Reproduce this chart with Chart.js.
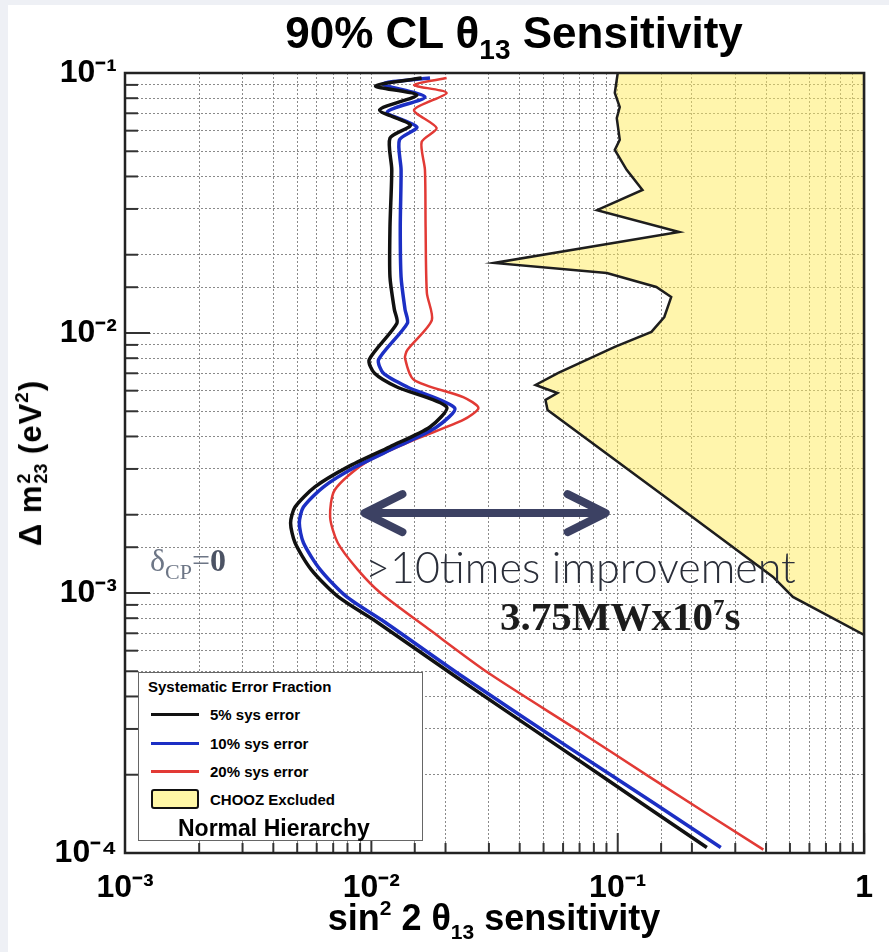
<!DOCTYPE html>
<html lang="en">
<head>
<meta charset="UTF-8">
<title>90% CL theta13 Sensitivity</title>
<script src="https://cdn.jsdelivr.net/npm/chart.js"></script>
<style>
  html, body { margin: 0; padding: 0; }
  body { width: 889px; height: 952px; background: #eef0f5; position: relative; overflow: hidden;
         font-family: 'Liberation Sans', Arial, sans-serif; }
  #card { position: absolute; left: 8px; top: 5px; right: 0; bottom: 0; background: #fff; }
  #chart { position: absolute; left: 0; top: 0; }
  .txt { position: absolute; white-space: nowrap; line-height: 1; }
  #title { left: 514px; top: 11px; transform: translateX(-50%); font-weight: bold; font-size: 44px; }
  #title sub { font-size: 28px; vertical-align: -11px; }
  #xtitle { left: 494px; top: 897px; transform: translateX(-50%); font-weight: bold; font-size: 36px; }
  #xtitle sup { font-size: 21px; vertical-align: 15px; }
  #xtitle sub { font-size: 21px; vertical-align: -9px; }
  #ytitle { left: 31px; top: 463px; transform: translate(-50%, -50%) rotate(-90deg); font-weight: bold; font-size: 31px; letter-spacing: 1px; }
  .stack { display: inline-block; vertical-align: middle; font-size: 18px; line-height: 0.95; text-align: left; margin-left: 1px; letter-spacing: 0; }
  #ytitle sup { font-size: 19px; vertical-align: 13px; }
  #dcp { left: 150px; top: 544px; font-family: 'Liberation Serif', 'Times New Roman', serif; font-size: 32px; color: #6d7686; }
  #dcp sub { font-size: 22px; vertical-align: -8px; }
  #dcp b { color: #4c5364; }
  #improve { left: 365px; top: 545px; font-family: Lato, 'Open Sans', sans-serif; font-weight: 300; font-size: 43px; color: #2b2f3a; }
  #power { left: 500px; top: 596px; font-family: 'Liberation Serif', 'Times New Roman', serif; font-weight: bold; font-size: 41px; color: #1c1c1c; }
  #power sup { font-size: 23px; vertical-align: 15px; }
  #legend { position: absolute; left: 138px; top: 672px; width: 283px; height: 167px; border: 1.5px solid #666; background: #fff; }
  #legend .row { position: absolute; left: 0; white-space: nowrap; font-weight: bold; }
  #legend .sw { position: absolute; left: 12px; width: 48px; height: 3px; }
  #legend .box { position: absolute; left: 12px; width: 44px; height: 16px; border: 2px solid #111; border-radius: 3px; background: #fff7a6; }
  #legend .lab { position: absolute; left: 71px; font-size: 15px; transform: translateY(-50%); }
</style>
</head>
<body>
<div id="card"></div>
<canvas id="chart" width="889" height="952"></canvas>

<div class="txt" id="title">90% CL &theta;<sub>13</sub> Sensitivity</div>
<div class="txt" id="xtitle">sin<sup>2</sup> 2 &theta;<sub>13</sub> sensitivity</div>
<div class="txt" id="ytitle">&Delta; m<span class="stack">2<br>23</span> (eV<sup>2</sup>)</div>
<div class="txt" id="dcp">&delta;<sub>CP</sub>=<b>0</b></div>
<div class="txt" id="improve">&gt;10times improvement</div>
<div class="txt" id="power">3.75MWx10<sup>7</sup>s</div>
<div id="legend"></div>

<script>
// axis ranges and decade labels
const xRange = [0.001, 1];
const yRange = [0.0001, 0.1];
const xDecades = [0.001, 0.01, 0.1, 1];
const xTickLabels = ['10\u207B\u00B3', '10\u207B\u00B2', '10\u207B\u00B9', '1'];
const yDecades = [0.0001, 0.001, 0.01, 0.1];
const yTickLabels = ['10\u207B\u2074', '10\u207B\u00B3', '10\u207B\u00B2', '10\u207B\u00B9'];

// 5% sys error (black)
const sys5Sin2 = [0.0160, 0.0104, 0.0153, 0.0108, 0.0144, 0.0119, 0.0121, 0.0119, 0.0119, 0.0124,
                  0.0127, 0.0098, 0.0103, 0.0127, 0.0202, 0.0173, 0.0119, 0.0080, 0.0059, 0.0049,
                  0.0047, 0.0049, 0.0057, 0.0073, 0.0106, 0.0221, 0.0596, 0.128, 0.230];
const sys5Dm2 = [0.0957, 0.0891, 0.0823, 0.0721, 0.0631, 0.0562, 0.0424, 0.0256, 0.0164, 0.0123,
                 0.0109, 0.0079, 0.0070, 0.0062, 0.0052, 0.00435, 0.00365, 0.00305, 0.00256, 0.00214,
                 0.00186, 0.00156, 0.00123, 0.00097, 0.00077, 0.000475, 0.000251, 0.000153, 0.000105];

// 10% sys error (blue)
const sys10Sin2 = [0.0173, 0.0111, 0.0165, 0.0116, 0.0153, 0.0130, 0.0132, 0.0131, 0.0132, 0.0137,
                   0.0140, 0.0107, 0.0112, 0.0140, 0.0218, 0.0184, 0.0127, 0.0086, 0.0064, 0.0053,
                   0.0051, 0.0053, 0.0062, 0.0079, 0.0114, 0.0236, 0.0648, 0.141, 0.262];
const sys10Dm2 = [0.0957, 0.0907, 0.0809, 0.0708, 0.0620, 0.0553, 0.0424, 0.0256, 0.0164, 0.0123,
                  0.0109, 0.0079, 0.0070, 0.0062, 0.00515, 0.00435, 0.00365, 0.00305, 0.00256, 0.00214,
                  0.00186, 0.00156, 0.00123, 0.00097, 0.00077, 0.000475, 0.000251, 0.000155, 0.000105];

// 20% sys error (red)
const sys20Sin2 = [0.0202, 0.0149, 0.0202, 0.0149, 0.0184, 0.0160, 0.0165, 0.0166, 0.0168, 0.0176,
                   0.0140, 0.0137, 0.0149, 0.0236, 0.0272, 0.0236, 0.0149, 0.0094, 0.0071, 0.0068,
                   0.0073, 0.0088, 0.0109, 0.0173, 0.0301, 0.0691, 0.137, 0.390];
const sys20Dm2 = [0.0957, 0.0899, 0.0838, 0.0721, 0.0614, 0.0543, 0.0424, 0.0256, 0.01425, 0.0112,
                  0.0086, 0.0080, 0.0066, 0.00567, 0.00515, 0.00463, 0.00388, 0.00316, 0.00249, 0.00196,
                  0.00156, 0.00123, 0.00100, 0.00072, 0.00049, 0.000296, 0.000194, 0.000103];

// CHOOZ excluded region boundary (closed towards sin^2 = 1)
const choozSin2 = [0.100, 0.0973, 0.1019, 0.0991, 0.1019, 0.0973, 0.1087, 0.126, 0.0824, 0.1775,
                   0.0315, 0.0903, 0.1434, 0.1648, 0.1545, 0.137, 0.0973, 0.0574, 0.0464, 0.0569,
                   0.0509, 0.0519, 0.191, 0.427, 0.514, 1, 1];
const choozDm2 = [0.1, 0.0838, 0.074, 0.0671, 0.0553, 0.0506, 0.0424, 0.0355, 0.0297, 0.02446,
                  0.01859, 0.0170, 0.01503, 0.01375, 0.01152, 0.0101, 0.00884, 0.00702, 0.00631, 0.00588,
                  0.00553, 0.00506, 0.00203, 0.001153, 0.000966, 0.00069, 0.1];

// double arrow annotation (data units)
const arrowSin2 = [0.0092, 0.091];
const arrowDm2 = 0.00203;

const seriesLabels = ['5% sys error', '10% sys error', '20% sys error'];
const seriesColors = ['#111111', '#1c2fc4', '#e23a35'];
const choozLabel = 'CHOOZ Excluded';

const toPoints = (xs, ys) => xs.map((x, i) => ({ x: x, y: ys[i] }));

function decadeLabel(v, decades, labels) {
    const i = decades.findIndex(d => Math.abs(Math.log10(v) - Math.log10(d)) < 1e-6);
    return i < 0 ? '' : labels[i];
}

const tickFont = { family: "'Liberation Sans Narrow', 'Liberation Sans', Arial, sans-serif", size: 32, weight: 'bold' };

// frame, inward tick marks (ROOT style) and the arrow
const framePlugin = {
    id: 'framePlugin',
    afterDraw(chart) {
        const { ctx, chartArea: a, scales: { x, y } } = chart;
        ctx.save();
        ctx.strokeStyle = '#333';
        ctx.lineWidth = 2;
        y.ticks.forEach(t => {
            const py = y.getPixelForValue(t.value);
            const len = decadeLabel(t.value, yDecades, yTickLabels) ? 25 : 13;
            ctx.beginPath(); ctx.moveTo(a.left, py); ctx.lineTo(a.left + len, py); ctx.stroke();
        });
        x.ticks.forEach(t => {
            const px = x.getPixelForValue(t.value);
            const len = decadeLabel(t.value, xDecades, xTickLabels) ? 20 : 10;
            ctx.beginPath(); ctx.moveTo(px, a.bottom); ctx.lineTo(px, a.bottom - len); ctx.stroke();
        });
        ctx.strokeStyle = '#222';
        ctx.lineWidth = 2.5;
        ctx.strokeRect(a.left, a.top, a.right - a.left, a.bottom - a.top);

        // arrow
        const x1 = x.getPixelForValue(arrowSin2[0]);
        const x2 = x.getPixelForValue(arrowSin2[1]);
        const ya = y.getPixelForValue(arrowDm2);
        ctx.strokeStyle = '#3c4163';
        ctx.lineWidth = 8;
        ctx.lineCap = 'round';
        ctx.lineJoin = 'round';
        ctx.beginPath();
        ctx.moveTo(x1 + 3, ya); ctx.lineTo(x2 - 3, ya);
        ctx.moveTo(x1 + 40, ya - 19); ctx.lineTo(x1 + 2, ya); ctx.lineTo(x1 + 40, ya + 19);
        ctx.moveTo(x2 - 40, ya - 19); ctx.lineTo(x2 - 2, ya); ctx.lineTo(x2 - 40, ya + 19);
        ctx.stroke();
        ctx.restore();
    }
};

const curve = (label, xs, ys, color, width, order) => ({
    label: label,
    data: toPoints(xs, ys),
    showLine: true,
    borderColor: color,
    borderWidth: width,
    pointRadius: 0,
    tension: 0.25,
    fill: false,
    order: order
});

new Chart(document.getElementById('chart'), {
    type: 'scatter',
    data: {
        datasets: [
            curve(seriesLabels[0], sys5Sin2, sys5Dm2, seriesColors[0], 3.5, 1),
            curve(seriesLabels[1], sys10Sin2, sys10Dm2, seriesColors[1], 3.5, 2),
            curve(seriesLabels[2], sys20Sin2, sys20Dm2, seriesColors[2], 2.5, 3),
            {
                label: choozLabel,
                data: toPoints(choozSin2, choozDm2),
                showLine: true,
                borderColor: '#1e1e1e',
                borderWidth: 2.5,
                backgroundColor: 'rgba(255, 236, 90, 0.5)',
                pointRadius: 0,
                tension: 0,
                fill: 'shape',
                order: 10
            }
        ]
    },
    options: {
        responsive: false,
        animation: false,
        layout: { padding: { left: 0, top: 73, right: 19, bottom: 0 } },
        plugins: {
            legend: { display: false },
            title: { display: false },
            tooltip: { enabled: false }
        },
        scales: {
            x: {
                type: 'logarithmic',
                min: xRange[0],
                max: xRange[1],
                afterFit: s => { s.height = 99; },
                grid: { color: '#8a8a8a', lineWidth: 1, drawTicks: false },
                border: { display: false, dash: [2, 2] },
                ticks: {
                    autoSkip: false, maxRotation: 0, minRotation: 0, padding: 16,
                    color: '#000', font: tickFont,
                    callback: v => decadeLabel(v, xDecades, xTickLabels)
                }
            },
            y: {
                type: 'logarithmic',
                min: yRange[0],
                max: yRange[1],
                afterFit: s => { s.width = 125; },
                grid: { color: '#8a8a8a', lineWidth: 1, drawTicks: false },
                border: { display: false, dash: [2, 2] },
                ticks: {
                    autoSkip: false, padding: 8,
                    color: '#000', font: tickFont,
                    callback: v => decadeLabel(v, yDecades, yTickLabels)
                }
            }
        }
    },
    plugins: [framePlugin]
});

// legend box
const legend = document.getElementById('legend');
let html = '<div class="row" style="left:9px;top:13px;font-size:15px;transform:translateY(-50%)">Systematic Error Fraction</div>';
const rowY = [41, 70, 98];
seriesLabels.forEach((lab, i) => {
    html += '<div class="sw" style="top:' + (rowY[i] - 1.5) + 'px;background:' + seriesColors[i] + '"></div>';
    html += '<div class="row lab" style="top:' + rowY[i] + 'px">' + lab + '</div>';
});
html += '<div class="box" style="top:116px"></div>';
html += '<div class="row lab" style="top:126px">' + choozLabel + '</div>';
html += '<div class="row" style="left:39px;top:155px;font-size:23px;transform:translateY(-50%)">Normal Hierarchy</div>';
legend.innerHTML = html;
</script>
</body>
</html>
